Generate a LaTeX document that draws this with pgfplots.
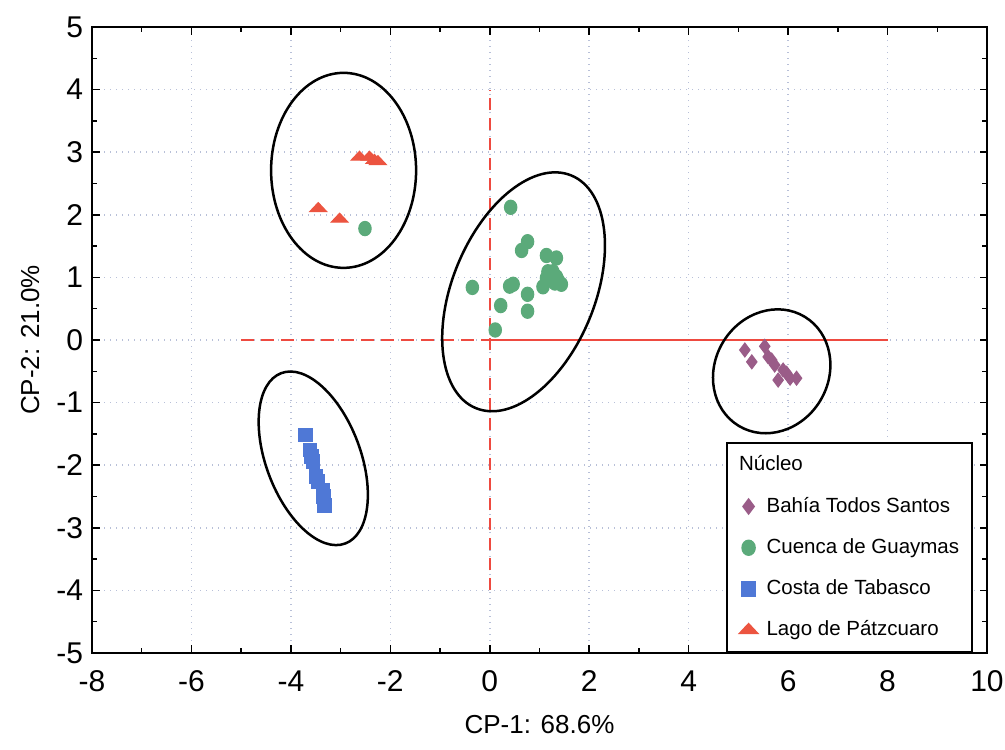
\documentclass[border=0pt]{standalone}
\usepackage{pgfplots}
\pgfplotsset{compat=1.18}
\usepackage{fontspec}
\setmainfont{Liberation Sans}
\definecolor{cpurple}{HTML}{9A5C88}
\definecolor{cgreen}{HTML}{5BAA7A}
\definecolor{cblue}{HTML}{4F78D6}
\definecolor{cred}{HTML}{EC5440}
\definecolor{cgrid}{HTML}{B8C0D8}
\definecolor{cline}{HTML}{EE4A40}
\begin{document}
\begin{tikzpicture}
\begin{axis}[
  scale only axis,
  width=358pt, height=250.4pt,
  xmin=-8, xmax=10, ymin=-5, ymax=5,
  xtick={-8,-6,...,10}, ytick={-5,-4,...,5},
  minor x tick num=1, minor y tick num=1,
  tick align=inside,
  major tick length=3pt, minor tick length=2pt,
  tick style={black, line width=0.6pt},
  axis line style={black, line width=1pt},
  grid=major,
  major grid style={cgrid, dotted, line width=0.6pt},
  /pgf/number format/assume math mode=true,
  ticklabel style={font=\fontsize{12}{14}\selectfont},
  xticklabel style={yshift=-3.6pt},
  xlabel={CP-1: 68.6\%},
  ylabel={CP-2: 21.0\%},
  label style={font=\fontsize{10.4}{12}\selectfont},
  xlabel style={at={(axis description cs:0.5,-0.115)}, anchor=center},
  ylabel style={at={(axis description cs:-0.069,0.5)}, anchor=center},
  legend style={at={(0.984,0)}, anchor=south east, draw=black, line width=0.8pt,
    font=\fontsize{8.2}{10}\selectfont, row sep=5pt, inner sep=3pt,
    cells={anchor=west}, fill=white},
  legend cell align=left,
  legend image code/.code={\draw[mark repeat=2,mark phase=2,#1] plot coordinates {(0cm,0cm) (0.2cm,0cm) (0.2cm,0cm)}; \path (0.2cm,0cm) ++(4.8pt,0pt);},
]
% reference lines
\draw[cline, line width=1pt, dash pattern=on 5pt off 3pt] (axis cs:-5,0) -- (axis cs:0,0);
\draw[cline, line width=1pt] (axis cs:0,0) -- (axis cs:8,0);
\draw[cline, line width=1pt, dash pattern=on 5pt off 3pt] (axis cs:0,-4) -- (axis cs:0,4);

\addlegendimage{empty legend}
\addlegendentry{\hspace*{-11pt}N\'ucleo}

\addplot[only marks, mark=diamond*, mark size=2.8pt, color=cpurple, mark options={fill=cpurple, draw=cpurple}]
coordinates {
(5.13,-0.16) (5.27,-0.35) (5.53,-0.10) (5.60,-0.27) (5.67,-0.32) (5.73,-0.40)
(5.90,-0.48) (5.80,-0.64) (6.04,-0.61) (6.17,-0.61) (5.97,-0.53)
};
\addlegendentry{Bah\'ia Todos Santos}

\addplot[only marks, mark=*, mark size=2.5pt, color=cgreen, mark options={fill=cgreen, draw=cgreen, yscale=1.15}]
coordinates {
(-2.51,1.78) (0.42,2.12) (0.76,1.57) (0.64,1.43) (1.14,1.35) (1.34,1.31)
(-0.35,0.84) (0.40,0.86) (0.47,0.89) (0.76,0.73) (0.22,0.55) (0.76,0.46) (0.11,0.16)
(1.17,1.09) (1.27,1.09) (1.07,0.85) (1.21,0.96) (1.34,1.01) (1.44,0.89)
(1.14,0.99) (1.31,0.91) (1.37,0.96)
};
\addlegendentry{Cuenca de Guaymas}

\addplot[only marks, mark=square*, mark size=2.7pt, color=cblue, mark options={fill=cblue, draw=cblue}]
coordinates {
(-3.71,-1.52) (-3.62,-1.76) (-3.59,-1.86) (-3.56,-1.94) (-3.49,-2.18)
(-3.45,-2.26) (-3.35,-2.40) (-3.34,-2.50) (-3.32,-2.64)
};
\addlegendentry{Costa de Tabasco}

\addplot[only marks, mark=triangle*, mark size=3pt, color=cred, mark options={fill=cred, draw=cred, xscale=1.3, yscale=0.8}]
coordinates {
(-2.62,2.92) (-2.42,2.92) (-2.32,2.87) (-2.25,2.85) (-3.45,2.10) (-3.02,1.93)
};
\addlegendentry{Lago de P\'atzcuaro}

% ellipses
\draw[black, line width=1pt] (axis cs:-2.94,2.71) ellipse [x radius=29pt, y radius=39pt];
\draw[black, line width=1pt, rotate around={67.7:(axis cs:0.68,0.77)}] (axis cs:0.68,0.77) ellipse [x radius=50.3pt, y radius=28.5pt];
\draw[black, line width=1pt, rotate around={-69.4:(axis cs:-3.55,-1.89)}] (axis cs:-3.55,-1.89) ellipse [x radius=36.4pt, y radius=18.9pt];
\draw[black, line width=1pt, rotate around={58.8:(axis cs:5.67,-0.50)}] (axis cs:5.67,-0.50) ellipse [x radius=25.5pt, y radius=22.7pt];
\end{axis}
\pgfresetboundingbox
\path ([shift={(-36.8pt,-38.8pt)}]current axis.south west) rectangle ([shift={(7.2pt,10.8pt)}]current axis.north east);
\end{tikzpicture}
\end{document}
